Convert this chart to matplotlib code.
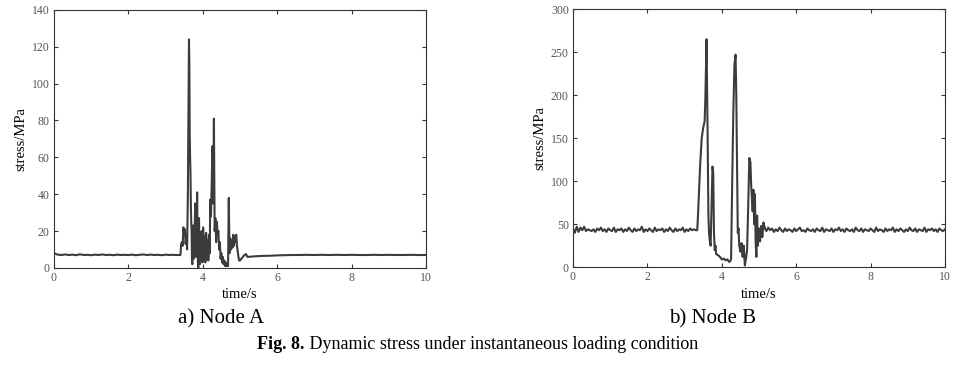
import matplotlib.pyplot as plt

plt.rcParams['font.family'] = ['Liberation Serif', 'DejaVu Serif']

# ---- Node A: stress (MPa) vs time (s) ----
time_a_pre = [0.00, 0.05, 0.10, 0.20, 0.30, 0.40, 0.50, 0.60, 0.70, 0.80,
              0.90, 1.00, 1.10, 1.20, 1.30, 1.40, 1.50, 1.60, 1.70, 1.80,
              1.90, 2.00, 2.10, 2.20, 2.30, 2.40, 2.50, 2.60, 2.70, 2.80,
              2.90, 3.00, 3.10, 3.20, 3.30, 3.38]
stress_a_pre = [8.0, 7.6, 7.2, 7.0, 7.3, 7.0, 7.2, 6.9, 7.4, 7.0,
                7.1, 6.9, 7.2, 7.0, 7.3, 7.0, 7.1, 6.9, 7.2, 7.0,
                7.1, 7.0, 7.2, 6.9, 7.1, 7.3, 7.0, 7.2, 7.0, 7.1,
                6.9, 7.2, 7.0, 7.1, 7.0, 7.0]

time_a_event = [3.40, 3.42, 3.44, 3.46, 3.48, 3.50, 3.52, 3.54, 3.56, 3.58,
                3.60, 3.62, 3.63, 3.64, 3.65, 3.66, 3.67, 3.68, 3.69,
                3.70, 3.71, 3.72, 3.73, 3.74, 3.75, 3.76, 3.77, 3.78, 3.79,
                3.80, 3.81, 3.82, 3.83, 3.84, 3.85, 3.86, 3.87, 3.88, 3.89,
                3.90, 3.91, 3.92, 3.93, 3.94, 3.95, 3.96, 3.97, 3.98, 3.99,
                4.00, 4.01, 4.02, 4.03, 4.04, 4.05, 4.06, 4.07, 4.08, 4.09,
                4.10, 4.11, 4.12, 4.13, 4.14, 4.15, 4.16, 4.17, 4.18, 4.19,
                4.20, 4.22, 4.24, 4.26, 4.28, 4.30, 4.32, 4.34, 4.36, 4.38,
                4.40, 4.42, 4.44, 4.46, 4.48, 4.50, 4.52, 4.54, 4.56, 4.58,
                4.60, 4.62, 4.64, 4.66, 4.68, 4.70, 4.72, 4.74, 4.76, 4.78,
                4.80, 4.82, 4.84, 4.86, 4.88, 4.90, 4.92, 4.94, 4.96, 4.98,
                5.00, 5.04, 5.08, 5.12, 5.16, 5.20]
stress_a_event = [7, 13, 14, 12, 22, 19, 21, 13, 18, 10,
                  40, 100, 124, 110, 72, 60, 52, 35, 25,
                  20, 5, 2, 15, 23, 8, 5, 14, 20, 28,
                  35, 12, 6, 22, 30, 41, 15, 3, 0, 18,
                  27, 8, 2, 12, 18, 4, 6, 20, 16, 3,
                  10, 22, 18, 4, 5, 17, 14, 3, 9, 19,
                  16, 5, 6, 15, 13, 4, 10, 18, 18, 8,
                  37, 28, 45, 66, 35, 81, 20, 27, 14, 25,
                  18, 20, 10, 14, 5, 8, 3, 6, 2, 4,
                  1, 3, 1, 2, 1, 38, 8, 16, 10, 15,
                  11, 18, 12, 17, 14, 18, 12, 9, 6, 4,
                  4, 5, 6, 7, 7.5, 6.0]

time_a_post = [5.30, 5.40, 5.50, 5.60, 5.80, 6.00, 6.20, 6.40, 6.60, 6.80,
               7.00, 7.20, 7.40, 7.60, 7.80, 8.00, 8.20, 8.40, 8.60, 8.80,
               9.00, 9.20, 9.40, 9.60, 9.80, 10.00]
stress_a_post = [6.1, 6.3, 6.4, 6.5, 6.6, 6.8, 6.9, 7.0, 7.0, 7.1,
                 7.0, 7.1, 7.0, 7.1, 7.0, 7.1, 7.0, 7.0, 7.1, 7.0,
                 7.1, 7.0, 7.0, 7.1, 7.0, 7.0]

# ---- Node B: stress (MPa) vs time (s) ----
# baseline sampled every 0.05 s
stress_b_pre = [45, 40, 47, 41, 46, 43, 47, 42, 44, 43,
                42, 44, 41, 45, 43, 46, 42, 44, 41, 45,
                43, 42, 46, 41, 44, 43, 45, 41, 44, 42,
                46, 43, 41, 45, 42, 44, 43, 47, 41, 44,
                42, 45, 43, 41, 46, 42, 44, 43, 45, 41,
                44, 42, 46, 43, 41, 45, 42, 44, 43, 46,
                41, 44, 42, 45, 43, 44, 43]
time_b_pre = [round(0.05 * i, 2) for i in range(len(stress_b_pre))]

time_b_event = [3.34, 3.36, 3.38, 3.42, 3.46, 3.50, 3.54, 3.56, 3.59, 3.62,
                3.64, 3.66, 3.68, 3.70, 3.72, 3.75, 3.77, 3.79, 3.81, 3.83,
                3.85, 3.90, 3.95, 4.00, 4.05, 4.10, 4.15, 4.20, 4.24, 4.25,
                4.28, 4.31, 4.34, 4.37, 4.39, 4.41, 4.43, 4.45, 4.47, 4.50,
                4.53, 4.56, 4.59, 4.62, 4.65, 4.68, 4.71, 4.74, 4.77, 4.79,
                4.81, 4.83, 4.85, 4.87, 4.89, 4.91, 4.93, 4.95, 4.97, 5.00,
                5.03, 5.06, 5.09, 5.12, 5.16, 5.20, 5.25]
stress_b_event = [43, 60, 80, 120, 150, 162, 170, 200, 265, 150,
                  60, 38, 30, 25, 60, 117, 110, 40, 20, 25,
                  15, 14, 12, 9, 10, 8, 9, 6, 8, 10,
                  100, 180, 235, 247, 200, 120, 40, 45, 25, 18,
                  28, 12, 25, 2, 10, 20, 70, 127, 122, 95,
                  80, 65, 90, 50, 85, 30, 12, 60, 25, 45,
                  30, 48, 35, 52, 45, 42, 46]

stress_b_post = [43, 45, 41, 44, 42, 46, 43, 41, 45, 42,
                 44, 43, 41, 45, 42, 44, 46, 42, 43, 41,
                 45, 43, 42, 44, 41, 45, 43, 42, 46, 41,
                 44, 43, 42, 45, 41, 44, 43, 46, 42, 44,
                 41, 45, 43, 42, 44, 41, 46, 43, 42, 45,
                 41, 44, 43, 42, 45, 43, 41, 46, 42, 44,
                 43, 41, 45, 42, 44, 43, 46, 41, 44, 42,
                 45, 43, 41, 44, 42, 46, 43, 42, 45, 41,
                 44, 43, 42, 46, 41, 44, 43, 45, 42, 44,
                 41, 45, 43, 42, 44]
time_b_post = [round(5.30 + 0.05 * i, 2) for i in range(len(stress_b_post))]

time_a = time_a_pre + time_a_event + time_a_post
stress_a = stress_a_pre + stress_a_event + stress_a_post
time_b = time_b_pre + time_b_event + time_b_post
stress_b = stress_b_pre + stress_b_event + stress_b_post

captions = ['a) Node A', 'b) Node B']
fig_title_bold = 'Fig. 8.'
fig_title_rest = ' Dynamic stress under instantaneous loading condition'

fig = plt.figure(figsize=(9.55, 3.66), dpi=100)
ax_a = fig.add_axes([0.0565, 0.268, 0.3895, 0.705])
ax_b = fig.add_axes([0.600, 0.270, 0.3895, 0.705])

panels = [(ax_a, time_a, stress_a, 140, 20),
          (ax_b, time_b, stress_b, 300, 50)]

for ax, t, s, ymax, ystep in panels:
    ax.plot(t, s, color='#3c3c3c', linewidth=1.5)
    ax.set_xlim(0, 10)
    ax.set_ylim(0, ymax)
    ax.set_xticks(range(0, 11, 2))
    ax.set_yticks(range(0, ymax + 1, ystep))
    ax.tick_params(direction='in', top=True, right=True, length=3,
                   width=0.8, labelsize=8.5, colors='#333333', pad=3)
    ax.tick_params(labelcolor='#555555')
    for sp in ax.spines.values():
        sp.set_color('#333333')
        sp.set_linewidth(0.8)
    ax.set_xlabel('time/s', fontsize=10.5, labelpad=3)
    ax.set_ylabel('stress/MPa', fontsize=10.5, labelpad=3)

fig.text(0.232, 0.13, captions[0], fontsize=15, ha='center', va='center')
fig.text(0.746, 0.13, captions[1], fontsize=15, ha='center', va='center')

# bold "Fig. 8." followed by the plain title, centred as one line
r = fig.canvas.get_renderer()
t1 = fig.text(0, 0.06, fig_title_bold, fontsize=13, fontweight='bold',
              va='center')
t2 = fig.text(0, 0.06, fig_title_rest, fontsize=13, va='center')
w_bold = t1.get_window_extent(r).width / fig.bbox.width
w_rest = t2.get_window_extent(r).width / fig.bbox.width
x0 = 0.5 - (w_bold + w_rest) / 2
t1.set_x(x0)
t2.set_x(x0 + w_bold)

fig.savefig('out.png', dpi=100)
